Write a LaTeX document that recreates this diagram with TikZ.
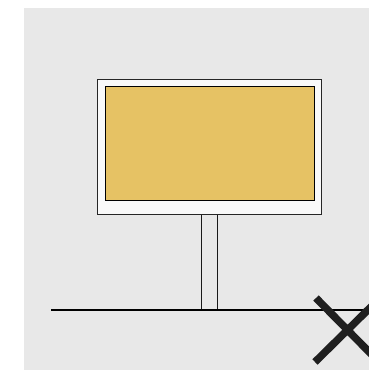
\documentclass[tikz,border=0pt]{standalone}
\definecolor{bggray}{HTML}{E8E8E8}
\definecolor{signyellow}{HTML}{E6C264}
\definecolor{framewhite}{HTML}{F9F9F9}
\tikzset{
  px/.style={x=1pt,y=-1pt},
  frameouter/.style={draw=black!85,fill=framewhite,line width=1.1pt},
  panel/.style={draw=black,fill=signyellow,line width=1.4pt},
  postbox/.style={draw=black!90,fill=bggray,line width=1.3pt},
  ground/.style={draw=black,line width=2pt},
  cross/.style={draw=black!88,line width=7.5pt}
}
\begin{document}
\begin{tikzpicture}[px]
\useasboundingbox (0,0) rectangle (369,370);
\clip (0,0) rectangle (369,370);
\fill[bggray] (24,8) rectangle (369,370);
\draw[postbox] (201.3,214) rectangle (217.3,310);
\node[frameouter,minimum width=223.5pt,minimum height=135pt,inner sep=0pt,anchor=north west] (frame) at (97.3,79) {};
\node[panel,minimum width=208.5pt,minimum height=114pt,inner sep=0pt,anchor=north west] (panel) at (105,86) {};
\coordinate (gl) at (51,310);
\coordinate (gr) at (369,310);
\draw[ground] (gl) -- (gr);
\coordinate (xa) at (316,298);
\coordinate (xb) at (381,364);
\coordinate (xc) at (315,362);
\coordinate (xd) at (381,297);
\draw[cross] (xa) -- (xb);
\draw[cross] (xc) -- (xd);
\end{tikzpicture}
\end{document}
